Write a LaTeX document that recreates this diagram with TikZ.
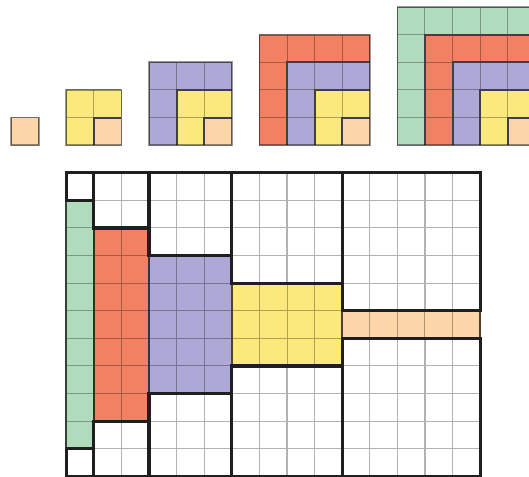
\documentclass[tikz,border=0pt]{standalone}
\usepackage{xcolor}
\definecolor{gno1}{HTML}{FCD5A9}
\definecolor{gno2}{HTML}{FCE97D}
\definecolor{gno3}{HTML}{ADA8D5}
\definecolor{gno4}{HTML}{F28062}
\definecolor{gno5}{HTML}{B0DBBD}

\begin{document}
\begin{tikzpicture}[
  x=1cm, y=1cm,
  cellgrid/.style={black!30, line width=1.1pt},
  tint/.style={black, opacity=0.3, line width=1pt},
  rim/.style={black, opacity=0.4, line width=1.8pt},
  seam/.style={black!75, line width=2pt},
  frame/.style={black!88, line width=3.3pt},
]
\useasboundingbox (-0.4,-0.02) rectangle (18.77,17.26);
\clip (-0.4,-0.02) rectangle (18.77,17.26);

% --- top row: squares 1..5, each one a stack of gnomons ---------------------
\foreach \n in {1,...,5}{
  \pgfmathtruncatemacro{\p}{\n*(\n+1)/2-1}
  \foreach \k in {\n,...,1}{
    \fill[gno\k] (\p+\n-\k,12) rectangle (\p+\n,12+\k);
  }
  \draw[tint] (\p,12) grid (\p+\n,12+\n);
  \ifnum\n>1
    \pgfmathtruncatemacro{\m}{\n-1}
    \foreach \k in {1,...,\m}{
      \draw[seam] (\p+\n-\k,12) |- (\p+\n,12+\k);
    }
  \fi
  \draw[rim] (\p,12) rectangle (\p+\n,12+\n);
}

% --- bottom: the same gnomons laid out as columns in a 15 x 11 grid ---------
\draw[cellgrid] (2,0) grid (17,11);
\foreach \j in {1,...,5}{
  \pgfmathtruncatemacro{\xs}{2+(\j-1)*\j/2}
  \pgfmathtruncatemacro{\c}{6-\j}
  \fill[gno\c] (\xs,\j) rectangle (\xs+\j,11-\j);
  \draw[tint] (\xs,\j) grid (\xs+\j,11-\j);
  \draw[gno\c!30!black, line width=1.8pt] (\xs,\j) rectangle (\xs+\j,11-\j);
}

% --- white blocks above and below each column -------------------------------
\foreach \j in {1,...,5}{
  \pgfmathtruncatemacro{\xs}{2+(\j-1)*\j/2}
  \draw[frame] (\xs,11-\j) rectangle (\xs+\j,11);
  \draw[frame] (\xs,0) rectangle (\xs+\j,\j);
}
\end{tikzpicture}
\end{document}
